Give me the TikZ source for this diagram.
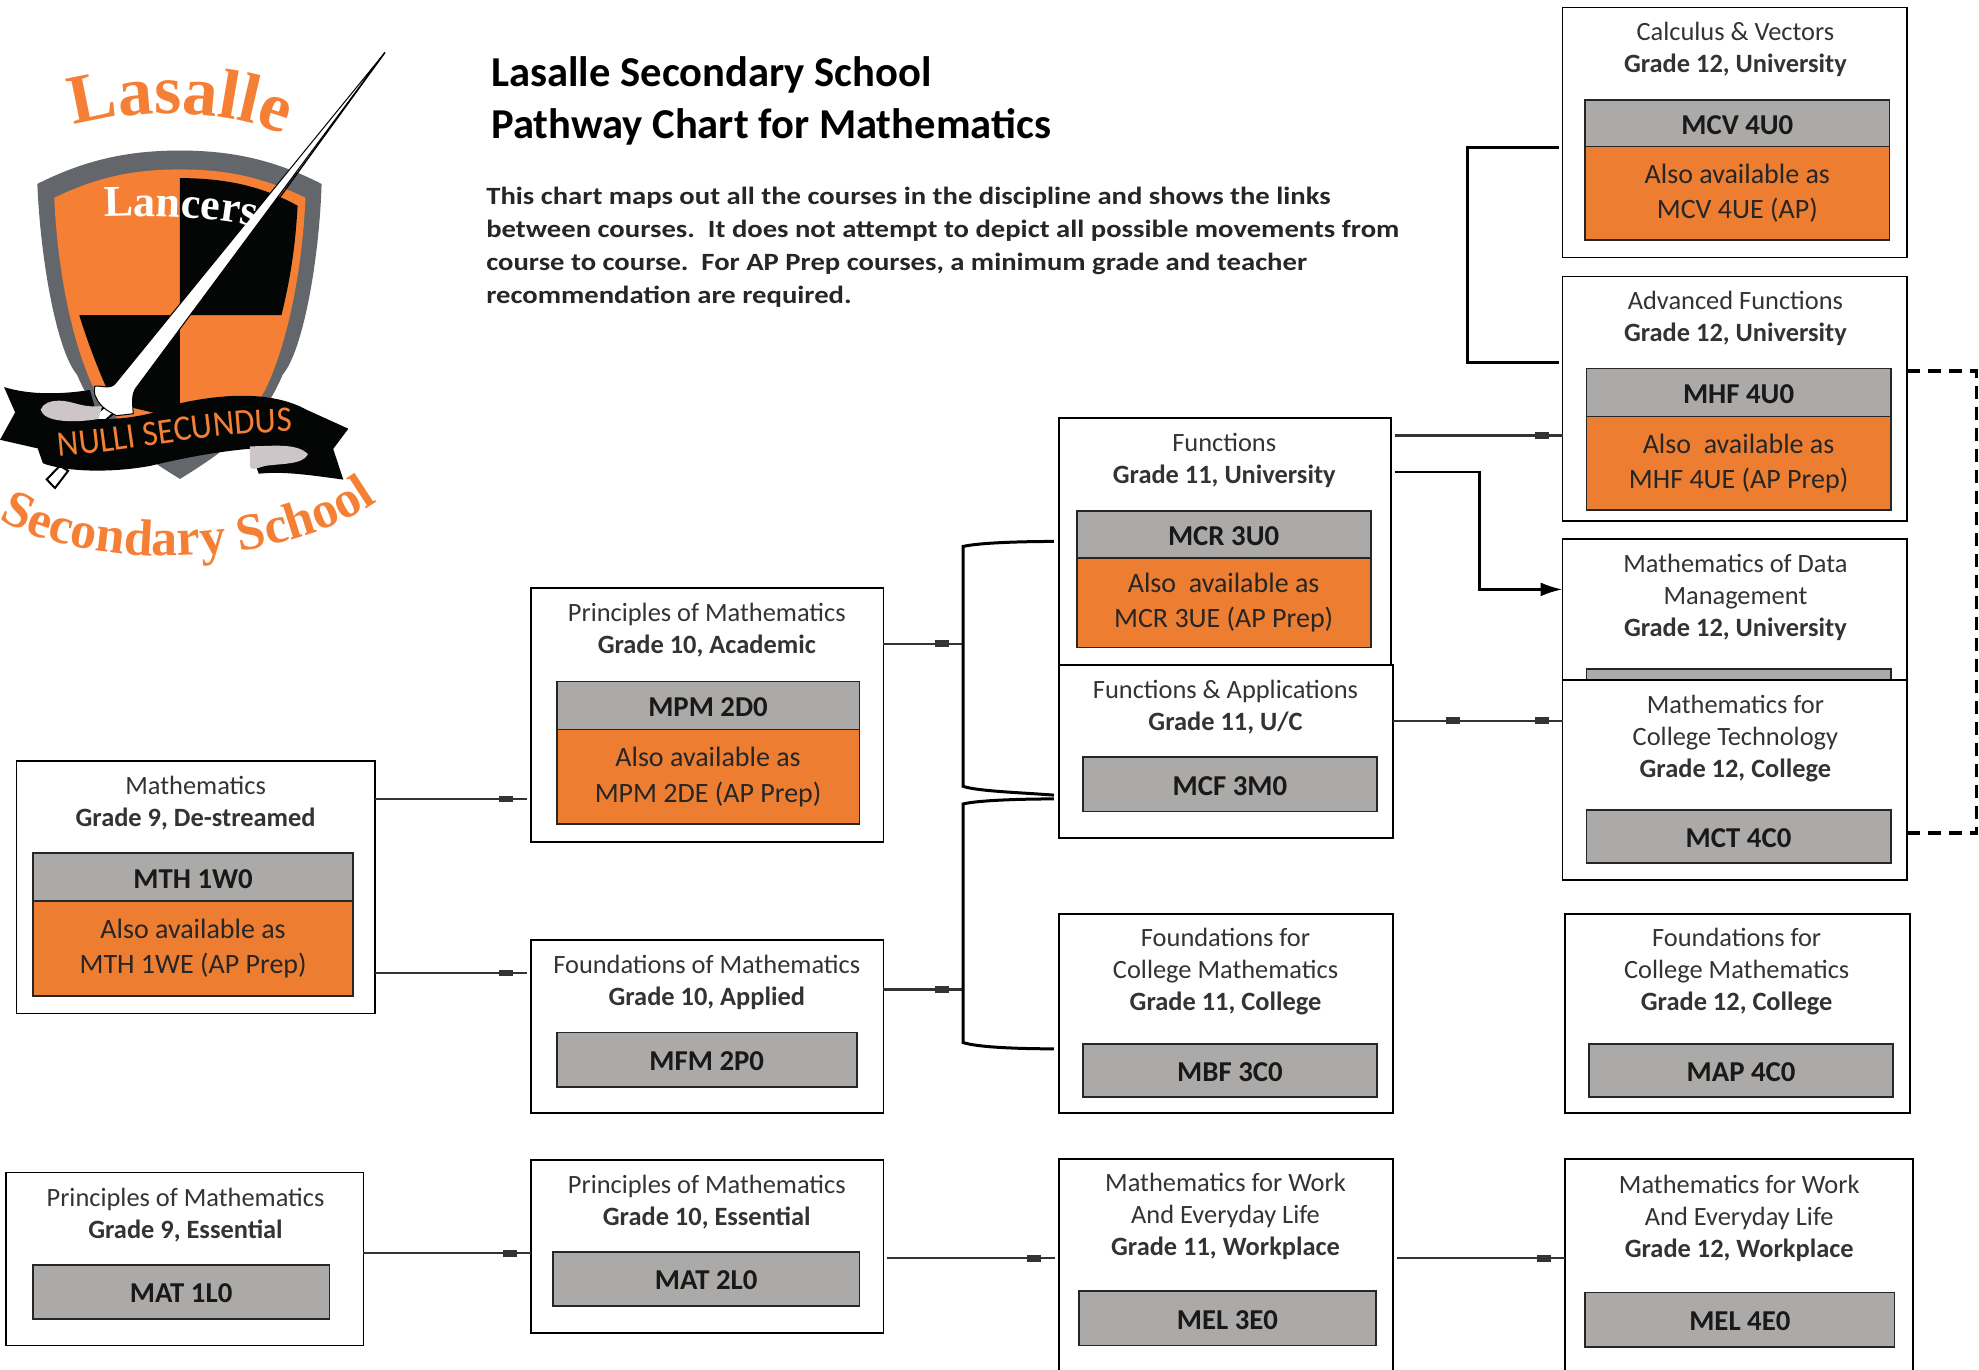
\documentclass[tikz,border=0pt]{standalone}
\usepackage{fontspec}
\setmainfont{Carlito}
\newfontfamily\parafont{Carlito Bold}[FakeStretch=1.155]
\newfontfamily\gothfont{Liberation Serif Bold}
\newfontfamily\mottofont{Carlito}[FakeStretch=0.92]
\usetikzlibrary{calc,arrows.meta,decorations.markings,decorations.text}
\definecolor{cgrey}{HTML}{ABAAA8}
\definecolor{corange}{HTML}{ED7D31}
\definecolor{lorange}{HTML}{F58035}
\definecolor{lgrey}{HTML}{63666A}
\definecolor{lpink}{HTML}{CDC5C7}
\definecolor{lblack}{HTML}{040606}
\definecolor{ink}{HTML}{333333}
\tikzset{
  outerbox/.style={draw=black,fill=white,line width=0.9pt,inner sep=0pt,outer sep=0pt},
  greybox/.style={draw=black!85,fill=cgrey,line width=0.9pt,inner sep=0pt,outer sep=0pt,align=center,
     font=\fontsize{14.4}{16}\selectfont\bfseries,text=black!90,text depth=1.0pt,text height=11.8pt},
  orangebox/.style={draw=black!85,fill=corange,line width=0.9pt,inner sep=0pt,outer sep=0pt,align=center,
     font=\fontsize{14}{17.7}\selectfont,text=black!85,yshift=0.6pt},
  lbl/.style={inner sep=0pt,align=center,font=\fontsize{13.2}{16}\selectfont,text=ink},
  conn/.style={draw=ink,line width=1.1pt},
  bracketline/.style={draw=black,line width=1.5pt},
  tickend/.style={postaction={decorate,decoration={markings,mark=at position -10pt with {\fill[ink] (-4pt,-1.6pt) rectangle (3pt,1.6pt);}}}},
  tickmid/.style={postaction={decorate,decoration={markings,mark=at position #1 with {\fill[ink] (-4pt,-1.6pt) rectangle (3pt,1.6pt);}}}},
}
\newcommand{\bx}[7]{% name x1 y1 x2 y2 style text
  \pgfmathsetlengthmacro\bw{(#4-#2)*0.63106pt}%
  \pgfmathsetlengthmacro\bh{(#5-#3)*0.63106pt}%
  \pgfmathsetmacro\bcx{(#2+#4)/2}%
  \pgfmathsetmacro\bcy{(#3+#5)/2}%
  \node[#6,minimum width=\bw,minimum height=\bh] (#1) at (\bcx,\bcy) {#7};}
\begin{document}
\begin{tikzpicture}[x=0.63106pt,y=-0.63106pt]
\useasboundingbox (0,0) rectangle (1568,1085);
% ---------- logo ----------
\begin{scope}[y=-0.65207pt,yshift=0.5pt]
\fill[lgrey] (29.6,141.8) .. controls (70,122) and (105,116.2) .. (142.6,116.2) .. controls (180,116.2) and (215,122) .. (254.8,141.8)
  .. controls (253,200) and (240,270) .. (224,288) .. controls (210,320) and (190,340) .. (142.6,368)
  .. controls (95,340) and (75,320) .. (61,288) .. controls (45,270) and (32,200) .. (29.6,141.8) -- cycle;
\fill[lorange] (43,152.4) .. controls (80,135) and (110,130.7) .. (142.6,130.7) .. controls (175,130.7) and (205,135) .. (242,152.4)
  .. controls (240,200) and (230,260) .. (210,300) .. controls (195,325) and (175,335) .. (142.6,345)
  .. controls (110,335) and (90,325) .. (75,300) .. controls (55,260) and (45,200) .. (43,152.4) -- cycle;
\fill[lblack] (142.6,137.3) .. controls (175,137.5) and (205,142) .. (235.8,158.5) .. controls (234,190) and (230,215) .. (223,242.4) -- (142.6,242.4) -- cycle;
\fill[lblack] (62.8,242.4) -- (142.6,242.4) -- (142.6,322) -- (90,310) .. controls (80,290) and (70,265) .. (62.8,242.4) -- cycle;
% lance handle
\fill[white,draw=black,line width=1pt] (37,368.4) -- (43.6,375) -- (54,361.8) -- (47.5,357.8) -- cycle;
\fill[white,draw=black,line width=1pt] (72,322) -- (86,310) -- (92,316) -- (80,326) -- cycle;
% banner
\fill[lblack] (3.2,297.6) .. controls (25,304) and (50,303) .. (71.3,299.8) -- (80,330) -- (31.7,317) -- (31.7,345) -- (0,338) -- (12,317) -- cycle;
\fill[lblack] (243,315) -- (276,329.5) -- (264,345) -- (272,368.5) .. controls (245,365) and (225,362) .. (205,364) -- (198,345) -- cycle;
\fill[lblack] (31.7,317) .. controls (60,322) and (100,328) .. (142.6,310) .. controls (175,303) and (215,300) .. (243,315)
  -- (245.6,343) .. controls (210,343) and (175,345) .. (119,358) .. controls (85,364) and (50,362) .. (34,356) -- (30,345) -- cycle;
\fill[lpink] (32.2,315) .. controls (34,310) and (40,308) .. (47,308) .. controls (58,308) and (65,314) .. (81,312) -- (78,322) .. controls (60,325) and (35,325) .. (32.2,315) -- cycle;
\fill[lpink] (198,343) .. controls (215,343) and (235,340) .. (244,349) .. controls (240,357) and (225,356) .. (210,358) .. controls (203,360) and (198,362) .. (198,358) -- cycle;
% lance
\fill[white,draw=black,line width=0.5pt] (305,41) -- (108,298) .. controls (104,303) and (105,310) .. (105.6,318) -- (92.4,319.5)
  .. controls (85,316) and (79,312) .. (76.6,306.4) .. controls (74,303) and (75,299) .. (75,297) .. controls (80,296) and (88,300) .. (92,294) -- cycle;
\draw[line width=0.7pt,black] (305,41) -- (212,165);
\end{scope}
% logo lettering
\path[decorate,decoration={text along path,text align=center,
   text={|\fontsize{35}{35}\selectfont\gothfont\color{lorange}|Lasalle}}]
   (45,104) .. controls (100,84) and (180,84) .. (238,112);
\path[decorate,decoration={text along path,text align=center,
   text={|\fontsize{22}{22}\selectfont\gothfont\color{white}|Lancers}}]
   (80,172) .. controls (120,170) and (170,172) .. (205,180);
\path[decorate,decoration={text along path,text align=center,
   text={|\fontsize{26}{26}\selectfont\gothfont\color{lorange}|Secondary School}}]
   (0,412) .. controls (70,452) and (220,452) .. (298,398);
\path[decorate,decoration={text along path,text align=center,
   text={|\fontsize{18}{18}\selectfont\mottofont\color{lorange}|NULLI SECUNDUS}}]
   (44,362) .. controls (100,358) and (170,342) .. (234,342);
% ---------- title ----------
\node[anchor=west,inner sep=0pt,align=left,font=\fontsize{21.3}{26.4}\selectfont\bfseries,text=black] (title) at (389,80) {Lasalle Secondary School\\Pathway Chart for Mathematics};
\node[anchor=west,inner sep=0pt,align=left,font=\parafont\fontsize{12.4}{16.4}\selectfont,text=black!85] (para) at (385,196)
 {This chart maps out all the courses in the discipline and shows the links\\
  between courses.\ \ It does not attempt to depict all possible movements from\\
  course to course.\ \ For AP Prep courses, a minimum grade and teacher\\
  recommendation are required.};
% ---------- course boxes ----------
\bx{cv}{1238}{6}{1511}{204}{outerbox}{}
\node[lbl] (cvt) at (1375,39.5) {Calculus \& Vectors\\\textbf{Grade 12, University}};
\bx{cvg}{1256}{79}{1497}{117}{greybox}{MCV 4U0}
\bx{cvo}{1256}{117}{1497}{191}{orangebox}{Also available as\\MCV 4UE (AP)}
\bx{af}{1238}{219}{1511}{413}{outerbox}{}
\node[lbl] (aft) at (1375,252.5) {Advanced Functions\\\textbf{Grade 12, University}};
\bx{afg}{1257}{292}{1498}{331}{greybox}{MHF 4U0}
\bx{afo}{1257}{331}{1498}{405}{orangebox}{Also\ \ available as\\MHF 4UE (AP Prep)}
\bx{md}{1238}{427}{1511}{560}{outerbox}{}
\node[lbl] (mdt) at (1375,473) {Mathematics of Data\\Management\\\textbf{Grade 12, University}};
\bx{mdg}{1257}{530}{1498}{560}{greybox}{}
\bx{mt}{1238}{539}{1511}{697}{outerbox}{}
\node[lbl] (mtt) at (1375,585) {Mathematics for\\College Technology\\\textbf{Grade 12, College}};
\bx{mtg}{1257}{642}{1498}{684}{greybox}{MCT 4C0}
\bx{fn}{839}{331}{1102}{527}{outerbox}{}
\node[lbl] (fnt) at (970,364.5) {Functions\\\textbf{Grade 11, University}};
\bx{fng}{853}{405}{1086}{443}{greybox}{MCR 3U0}
\bx{fno}{853}{443}{1086}{514}{orangebox}{Also\ \ available as\\MCR 3UE (AP Prep)}
\bx{fa}{839}{527}{1104}{664}{outerbox}{}
\node[lbl] (fat) at (971,560) {Functions \& Applications\\\textbf{Grade 11, U/C}};
\bx{fag}{858}{600}{1091}{643}{greybox}{MCF 3M0}
\bx{fc}{839}{724}{1104}{882}{outerbox}{}
\node[lbl] (fct) at (971,770) {Foundations for\\College Mathematics\\\textbf{Grade 11, College}};
\bx{fcg}{858}{827}{1091}{869}{greybox}{MBF 3C0}
\bx{fd}{1240}{724}{1513}{882}{outerbox}{}
\node[lbl] (fdt) at (1376,770) {Foundations for\\College Mathematics\\\textbf{Grade 12, College}};
\bx{fdg}{1259}{827}{1500}{869}{greybox}{MAP 4C0}
\bx{we}{839}{918}{1104}{1100}{outerbox}{}
\node[lbl] (wet) at (971,964) {Mathematics for Work\\And Everyday Life\\\textbf{Grade 11, Workplace}};
\bx{weg}{855}{1023}{1090}{1066}{greybox}{MEL 3E0}
\bx{wf}{1240}{918}{1516}{1100}{outerbox}{}
\node[lbl] (wft) at (1378,965) {Mathematics for Work\\And Everyday Life\\\textbf{Grade 12, Workplace}};
\bx{wfg}{1256}{1024}{1501}{1067}{greybox}{MEL 4E0}
\bx{pa}{421}{466}{700}{667}{outerbox}{}
\node[lbl] (pat) at (560,499.5) {Principles of Mathematics\\\textbf{Grade 10, Academic}};
\bx{pag}{441}{540}{681}{579}{greybox}{MPM 2D0}
\bx{pao}{441}{579}{681}{654}{orangebox}{Also available as\\MPM 2DE (AP Prep)}
\bx{fm}{421}{745}{700}{882}{outerbox}{}
\node[lbl] (fmt) at (560,778.5) {Foundations of Mathematics\\\textbf{Grade 10, Applied}};
\bx{fmg}{441}{818}{679}{861}{greybox}{MFM 2P0}
\bx{pe}{421}{919}{700}{1056}{outerbox}{}
\node[lbl] (pet) at (560,952.5) {Principles of Mathematics\\\textbf{Grade 10, Essential}};
\bx{peg}{438}{992}{681}{1035}{greybox}{MAT 2L0}
\bx{mm}{13}{603}{297}{803}{outerbox}{}
\node[lbl] (mmt) at (155,636.5) {Mathematics\\\textbf{Grade 9, De-streamed}};
\bx{mmg}{26}{676}{280}{715}{greybox}{MTH 1W0}
\bx{mmo}{26}{715}{280}{790}{orangebox}{Also available as\\MTH 1WE (AP Prep)}
\bx{pn}{5}{929}{288}{1066}{outerbox}{}
\node[lbl] (pnt) at (147,962.5) {Principles of Mathematics\\\textbf{Grade 9, Essential}};
\bx{png}{26}{1002}{261}{1045}{greybox}{MAT 1L0}
% ---------- connectors ----------
\coordinate (jpa) at (763,510);
\coordinate (jfm) at (763,784);
\coordinate (jaf) at (1172,374);
\coordinate (jmd) at (1172,467);
\coordinate (jtop) at (1163,117);
\coordinate (jbot) at (1163,287);
\coordinate (jdr) at (1566,294);
\coordinate (jds) at (1566,660);
\draw[conn,tickend] (mm.east |- 0,633) -- ([xshift=-2pt]pa.west |- 0,633);
\draw[conn,tickend] (mm.east |- 0,771) -- ([xshift=-2pt]fm.west |- 0,771);
\draw[conn,tickend] (pn.east |- 0,993) -- (pe.west |- 0,993);
\draw[conn,tickend] (pa.east |- 0,510) -- (jpa);
\draw[conn,tickend] (fm.east |- 0,784) -- (jfm);
\draw[conn,tickend] ([xshift=2pt]pe.east |- 0,997) -- ([xshift=-2pt]we.west |- 0,997);
\draw[conn,tickend] ([xshift=2pt]we.east |- 0,997) -- (wf.west |- 0,997);
\draw[conn,tickend] ([xshift=2pt]fn.east |- 0,345) -- (af.west |- 0,345);
\draw[conn,tickend,tickmid=0.36] (fa.east |- 0,571) -- (mt.west |- 0,571);
\draw[draw=black,line width=1.3pt,-{Latex[length=11pt,width=7pt]}] ([xshift=2pt]fn.east |- 0,374) -| (jmd) -- (md.west |- jmd);
\draw[bracketline] ([xshift=-2.5pt]fn.west |- 0,429) .. controls (810,429) and (775,430) .. (763,433) -- (763,623) .. controls (775,627) and (810,628) .. ([xshift=-2.5pt]fa.west |- 0,630);
\draw[bracketline] ([xshift=-2.5pt]fa.west |- 0,633) .. controls (810,633) and (775,634) .. (763,637) -- (763,826) .. controls (775,830) and (810,831) .. ([xshift=-2.5pt]fc.west |- 0,831);
\draw[bracketline] ([xshift=-2pt]cv.west |- jtop) -- (jtop) -- (jbot) -- ([xshift=-2pt]af.west |- jbot);
\draw[line width=1.6pt,dash pattern=on 6.5pt off 4pt,black] (af.east |- jdr) -- (jdr) -- (jds) -- (mt.east |- jds);
\end{tikzpicture}
\end{document}
